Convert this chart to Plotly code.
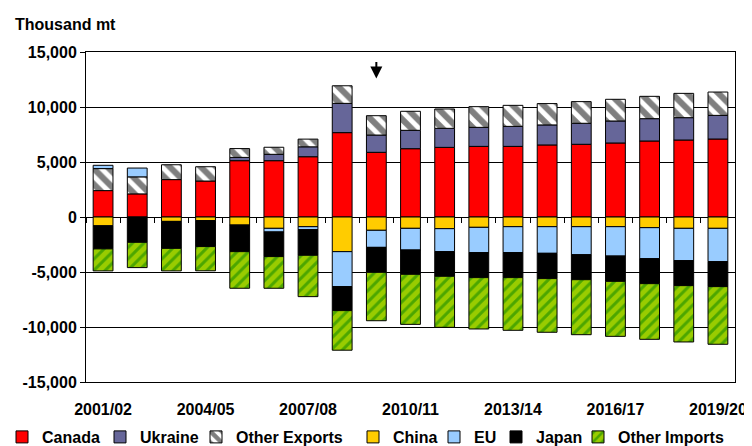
import plotly.graph_objects as go

years = ['2001/02', '2002/03', '2003/04', '2004/05', '2005/06', '2006/07', '2007/08',
         '2008/09', '2009/10', '2010/11', '2011/12', '2012/13', '2013/14', '2014/15',
         '2015/16', '2016/17', '2017/18', '2018/19', '2019/20']

canada = [2400, 2100, 3400, 3270, 5120, 5120, 5480, 7670, 5880, 6210, 6330, 6420, 6420,
          6550, 6610, 6730, 6910, 7000, 7090]
ukraine = [0, 0, 0, 0, 300, 580, 900, 2660, 1570, 1670, 1730, 1730, 1820, 1820, 1910,
           2000, 2030, 2030, 2150]
other_exports = [2000, 1550, 1350, 1300, 800, 640, 700, 1600, 1760, 1730, 1760, 1880, 1910,
                 1940, 1970, 1970, 2030, 2210, 2120]
china = [-800, 0, -400, -330, -730, -1030, -880, -3150, -1210, -1030, -1060, -940, -880,
         -880, -880, -880, -970, -1030, -1030]
eu = [300, 800, 0, 0, 0, -330, -270, -3180, -1550, -1970, -2090, -2300, -2360, -2420,
      -2550, -2670, -2820, -2940, -3030]
japan = [-2100, -2300, -2450, -2360, -2420, -2240, -2330, -2180, -2270, -2210, -2240, -2270,
         -2270, -2300, -2270, -2300, -2270, -2270, -2270]
other_imports = [-2000, -2300, -2050, -2200, -3330, -2880, -3760, -3600, -4400, -4550, -4640,
                 -4670, -4790, -4880, -5000, -5000, -5060, -5120, -5240]

y_tickvals = [-15000, -10000, -5000, 0, 5000, 10000, 15000]
y_ticktext = ['-15,000', '-10,000', '-5,000', '0', '5,000', '10,000', '15,000']
x_tick_labels = ['2001/02', '2004/05', '2007/08', '2010/11', '2013/14', '2016/17', '2019/20']
arrow_year = '2009/10'

FONT = 'Arial, Liberation Sans, sans-serif'
OFF = 8  # the page body has an 8px margin
W, H = 752 - OFF, 446 - OFF
L, R, T, B = 86 - OFF, 17, 52 - OFF, 64
PW, PH = W - L - R, H - T - B


def nz(vals):
    return [v if v != 0 else None for v in vals]


series = [
    ('Canada', canada, dict(color='#FF0000')),
    ('Ukraine', ukraine, dict(color='#666699')),
    ('Other Exports', other_exports, dict(color='white', pattern=dict(
        shape='\\', fgcolor='black', bgcolor='white', size=11, solidity=0.55))),
    ('China', china, dict(color='#FFCC00')),
    ('EU', eu, dict(color='#99CCFF')),
    ('Japan', japan, dict(color='#000000')),
    ('Other Imports', other_imports, dict(color='#99CC00', pattern=dict(
        shape='/', fgcolor='#008000', bgcolor='#99CC00', size=8, solidity=0.38))),
]

# legend text start positions (pixels in the page)
legend_text_px = [42, 140, 236, 393, 474, 536, 618]
legend_y = (H - B - (437 - OFF)) / PH

fig = go.Figure()
legend_layouts = {}
for i, (name, vals, marker) in enumerate(series):
    m = dict(marker)
    m['line'] = dict(color='black', width=1)
    lname = 'legend' if i == 0 else 'legend%d' % (i + 1)
    fig.add_trace(go.Bar(x=years, y=nz(vals), name='<b>%s</b>' % name, marker=m,
                         legend=lname))
    legend_layouts[lname] = dict(
        x=(legend_text_px[i] - OFF - 40 - L) / PW, xanchor='left',
        y=legend_y, yanchor='middle', orientation='h',
        bgcolor='rgba(0,0,0,0)', borderwidth=0, itemwidth=30,
        font=dict(family=FONT, size=16, color='black'))

# helper trace so the zero-line tick axis is drawn
fig.add_trace(go.Scatter(x=[None], y=[None], xaxis='x2', yaxis='y', showlegend=False,
                         hoverinfo='skip'))

fig.update_layout(
    width=W, height=H,
    margin=dict(l=L, r=R, t=T, b=B, autoexpand=False),
    barmode='relative',
    bargap=0.42,
    plot_bgcolor='white', paper_bgcolor='white',
    font=dict(family=FONT, size=16, color='black'),
    title=dict(text='<b>Thousand mt</b>', x=(15 - OFF) / W, xanchor='left', xref='container',
               y=1 - (24 - OFF) / H, yanchor='middle', yref='container',
               font=dict(family=FONT, size=16, color='black')),
    showlegend=True,
    xaxis=dict(type='category', tickmode='array', tickvals=x_tick_labels,
               ticktext=['<b>%s</b>' % t for t in x_tick_labels],
               ticks='', showline=True, linecolor='black', linewidth=1, mirror=True,
               ticklabelstandoff=13, showgrid=False,
               tickfont=dict(family=FONT, size=16, color='black')),
    yaxis=dict(range=[-15000, 15000], tickmode='array', tickvals=y_tickvals,
               ticktext=['<b>%s</b>' % t for t in y_ticktext],
               showgrid=True, gridcolor='black', gridwidth=1,
               zeroline=True, zerolinecolor='black', zerolinewidth=1,
               showline=True, linecolor='black', linewidth=1, mirror=True,
               ticks='outside', ticklen=5, tickcolor='black',
               tickfont=dict(family=FONT, size=16, color='black')),
    xaxis2=dict(overlaying='x', anchor='free', position=0.5, range=[-0.5, len(years) - 0.5],
                tickmode='linear', tick0=0.5, dtick=1, ticks='outside', ticklen=5,
                tickwidth=1, tickcolor='black', showticklabels=False, showline=False,
                showgrid=False, zeroline=False, fixedrange=True),
    annotations=[dict(x=arrow_year, y=12600, xref='x', yref='y', text='', showarrow=True,
                      ax=0, ay=-18, arrowhead=2, arrowsize=1.2, arrowwidth=2,
                      arrowcolor='black')],
    **legend_layouts,
)

fig.write_html('out.html')
